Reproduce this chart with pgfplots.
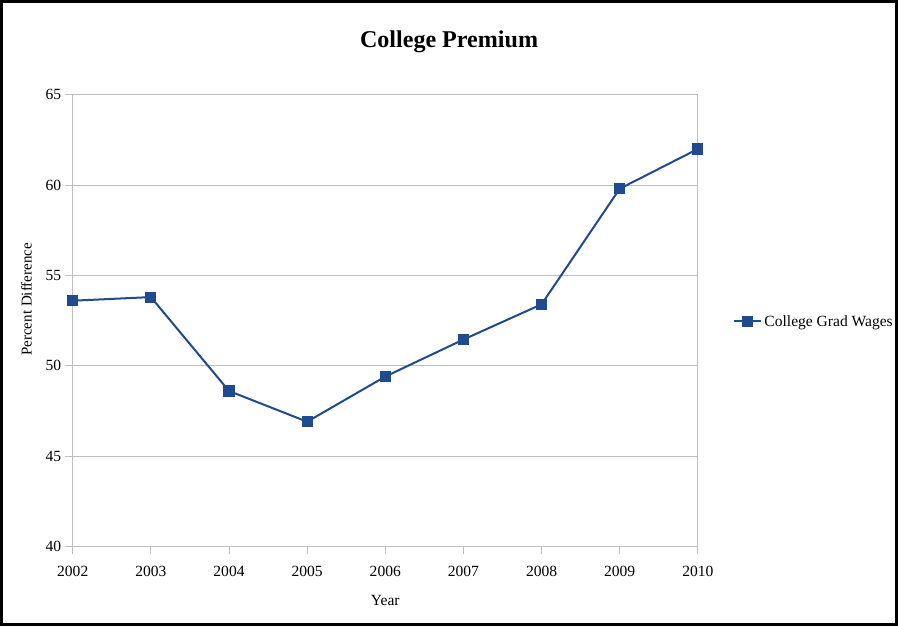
\documentclass[border=0pt]{standalone}
\usepackage{fontspec}
\setmainfont{Liberation Serif}
\usepackage{pgfplots}
\pgfplotsset{compat=1.18}
\definecolor{serblue}{HTML}{1F4A8F}
\definecolor{gridgray}{HTML}{BEBEBE}
\begin{document}
\begin{tikzpicture}
\begin{axis}[
  name=ax,
  scale only axis, width=623pt, height=450pt,
  xmin=2002, xmax=2010, ymin=40, ymax=65,
  xtick={2002,2003,...,2010}, ytick={40,45,...,65},
  clip=false,
  /pgf/number format/set thousands separator={},
  /pgf/number format/assume math mode=true,
  axis line style={draw=gridgray, line width=0.8pt},
  tick align=outside,
  major tick length=8pt,
  xtick pos=left, ytick pos=left,
  tick style={draw=gridgray, line width=1pt},
  ymajorgrids, grid style={gridgray, line width=0.8pt},
  tick label style={font=\fontsize{15.5}{18}\selectfont, black},
  xticklabel style={yshift=-8pt},
  title={College Premium},
  title style={font=\fontsize{24}{28}\selectfont\bfseries,
    at={(axis description cs:0.602,1.104)}, anchor=center},
  xlabel={Year},
  xlabel style={font=\fontsize{15.5}{18}\selectfont,
    at={(axis description cs:0.5,-0.12)}, anchor=center},
  ylabel={Percent Difference},
  ylabel style={font=\fontsize{15}{18}\selectfont,
    at={(axis description cs:-0.074,0.547)}, anchor=center},
  legend style={at={(axis description cs:1.056,0.498)}, anchor=west,
    draw=none, fill=none, inner sep=0pt,
    font=\fontsize{15.5}{18}\selectfont},
  legend image code/.code={%
    \draw[mark repeat=2,mark phase=2] plot coordinates
      {(0cm,0cm) (0.48cm,0cm) (0.96cm,0cm)};},
]
% tick marks below the x axis and left of the y axis
\pgfplotsinvokeforeach{2002,2003,...,2010}{
  \draw[gridgray, line width=1pt] (axis cs:#1,40) -- ++(0pt,-8pt);
}
\pgfplotsinvokeforeach{40,45,...,65}{
  \draw[gridgray, line width=1pt] (axis cs:2002,#1) -- ++(-6pt,0pt);
}
\addplot[serblue, line width=2pt, mark=square*, mark size=4.5pt,
  mark options={solid, fill=serblue}]
  coordinates {
    (2002,53.6) (2003,53.8) (2004,48.6) (2005,46.9) (2006,49.4)
    (2007,51.45) (2008,53.4) (2009,59.8) (2010,62.0)
  };
\addlegendentry{College Grad Wages}
\end{axis}
\draw[line width=3pt] ([shift={(-71pt,-78pt)}]ax.south west)
  rectangle ([shift={(198pt,93pt)}]ax.north east);
\end{tikzpicture}
\end{document}
